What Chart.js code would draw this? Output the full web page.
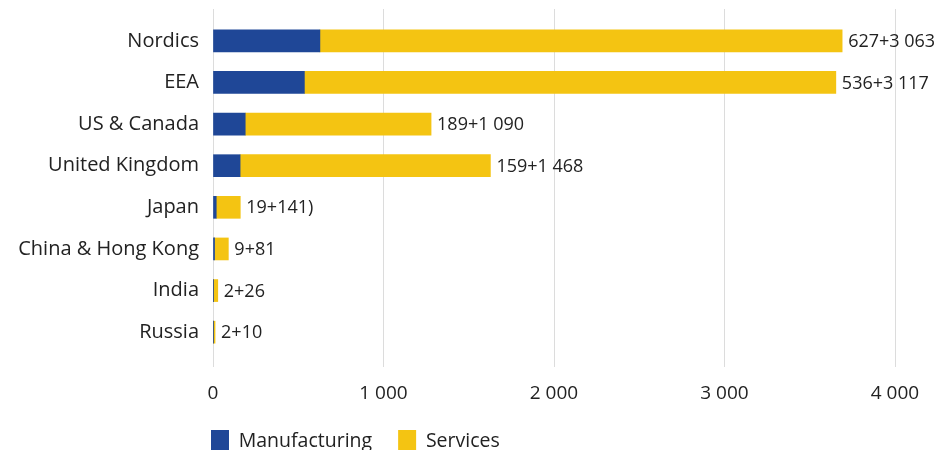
<!DOCTYPE html>
<html>
<head>
<meta charset="utf-8">
<script src="https://cdn.jsdelivr.net/npm/chart.js@4.4.1/dist/chart.umd.min.js"></script>
<style>
  html, body { margin: 0; padding: 0; background: #fff; overflow: hidden; }
  .chart-container { position: relative; width: 939px; height: 462px; }
</style>
</head>
<body>
<div class="chart-container">
  <canvas id="exportChart"></canvas>
</div>
<script>
// Companies by region: manufacturing + services
const regions = ["Nordics", "EEA", "US & Canada", "United Kingdom", "Japan", "China & Hong Kong", "India", "Russia"];
const manufacturing = [627, 536, 189, 159, 19, 9, 2, 2];
const services = [3063, 3117, 1090, 1468, 141, 81, 26, 10];
const totalLabels = ["627+3 063", "536+3 117", "189+1 090", "159+1 468", "19+141)", "9+81", "2+26", "2+10"];
const xTicks = [0, 1000, 2000, 3000, 4000];

const FONT = "'Open Sans', sans-serif";
const TEXT = "#222222";
const GRID = "#dcdcdc";

const fmt = v => String(v).replace(/\B(?=(\d{3})+(?!\d))/g, " ");

// writes the "a+b" text just past the end of each stacked bar
const endLabels = {
  id: "endLabels",
  afterDatasetsDraw(chart) {
    const { ctx } = chart;
    const meta = chart.getDatasetMeta(chart.data.datasets.length - 1);
    ctx.save();
    ctx.font = "18px " + FONT;
    ctx.fillStyle = TEXT;
    ctx.textAlign = "left";
    ctx.textBaseline = "middle";
    meta.data.forEach((bar, i) => {
      ctx.fillText(totalLabels[i], bar.x + 6, bar.y + 1);
    });
    ctx.restore();
  }
};

// line the legend up with the left edge of the plot
const legendOffset = {
  id: "legendOffset",
  afterLayout(chart) {
    const pad = chart.options.plugins.legend.labels.padding;
    chart.legend.left = chart.chartArea.left - 2 - pad;
  }
};

new Chart(document.getElementById("exportChart").getContext("2d"), {
  type: "bar",
  data: {
    labels: regions,
    datasets: [
      { label: "Manufacturing", data: manufacturing, backgroundColor: "#1f4797", barThickness: 22 },
      { label: "Services", data: services, backgroundColor: "#f4c412", barThickness: 22 }
    ]
  },
  options: {
    indexAxis: "y",
    responsive: true,
    maintainAspectRatio: false,
    animation: false,
    layout: { padding: { top: 9, right: 44, left: 0, bottom: 0 } },
    plugins: {
      tooltip: { enabled: false },
      legend: {
        position: "bottom",
        align: "start",
        labels: {
          boxWidth: 18,
          boxHeight: 22,
          padding: 26,
          color: TEXT,
          font: { family: FONT, size: 19.5 }
        }
      }
    },
    scales: {
      x: {
        stacked: true,
        min: 0,
        max: 4000,
        afterBuildTicks: scale => { scale.ticks = xTicks.map(v => ({ value: v })); },
        afterFit: scale => { scale.height = 51; },
        grid: { color: GRID, tickLength: 14, tickColor: GRID },
        border: { display: false },
        ticks: {
          padding: 15,
          color: TEXT,
          font: { family: FONT, size: 19 },
          callback: v => fmt(v)
        }
      },
      // top axis only extends the grid lines a little above the bars
      xTop: {
        position: "top",
        min: 0,
        max: 4000,
        afterBuildTicks: scale => { scale.ticks = xTicks.map(v => ({ value: v })); },
        grid: { drawOnChartArea: false, tickLength: 11, tickColor: GRID },
        border: { display: false },
        ticks: { display: false }
      },
      y: {
        stacked: true,
        afterFit: scale => { scale.width = 213; },
        grid: { display: false, drawTicks: false },
        border: { display: false },
        ticks: {
          padding: 14,
          color: TEXT,
          font: { family: FONT, size: 20, lineHeight: 0.5 }
        }
      }
    }
  },
  plugins: [endLabels, legendOffset]
});
</script>
</body>
</html>
